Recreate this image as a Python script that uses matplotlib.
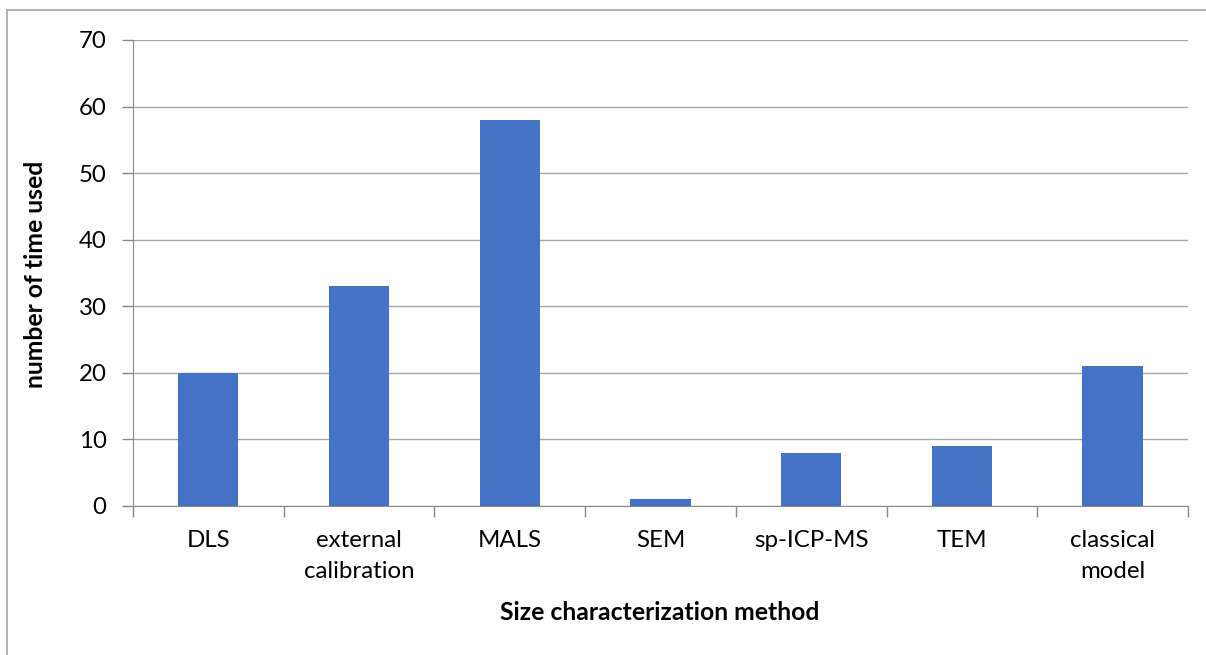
import matplotlib
matplotlib.use('Agg')
import matplotlib.pyplot as plt
import matplotlib.lines as mlines
import numpy as np

plt.rcParams['font.family'] = ['Lato', 'DejaVu Sans']

# Data
methods = ['DLS', 'external\ncalibration', 'MALS', 'SEM', 'sp-ICP-MS', 'TEM', 'classical\nmodel']
counts = [20, 33, 58, 1, 8, 9, 21]
y_ticks = [0, 10, 20, 30, 40, 50, 60, 70]

fig = plt.figure(figsize=(12.06, 6.55), dpi=100)
# plot area in figure fractions (pixels / size)
ax = fig.add_axes([133 / 1206, 1 - 506 / 655, (1188 - 133) / 1206, (506 - 40) / 655])

x = np.arange(len(methods))
ax.bar(x, counts, width=0.4, color='#4472C4', zorder=3)

ax.set_xlim(-0.5, len(methods) - 0.5)
ax.set_ylim(0, 70)
ax.set_yticks(y_ticks)
ax.yaxis.grid(True, color='#A6A6A6', linewidth=1, zorder=0)

# category labels centred, ticks at the boundaries
ax.set_xticks(x)
ax.set_xticklabels(methods, fontsize=17.3, linespacing=1.6)
ax.tick_params(axis='x', length=0, pad=17)
ax.set_xticks(np.arange(len(methods) + 1) - 0.5, minor=True)
ax.tick_params(axis='x', which='minor', length=8, color='#898989', width=1)
ax.tick_params(axis='y', length=8, color='#898989', width=1, labelsize=17.3, pad=11)

for s in ['top', 'right']:
    ax.spines[s].set_visible(False)
ax.spines['left'].set_color('#898989')
ax.spines['bottom'].set_color('#898989')

fig.text(36 / 1206, 1 - 274 / 655, 'number of time used', rotation=90, fontsize=17.8,
         fontweight='bold', ha='center', va='center')
fig.text(660 / 1206, 1 - 613 / 655, 'Size characterization method', fontsize=17.8,
         fontweight='bold', ha='center', va='center')

# outer chart border
fig.add_artist(mlines.Line2D([7 / 1206, 7 / 1206], [0, 1 - 10 / 655], color='#A6A6A6', linewidth=1.2))
fig.add_artist(mlines.Line2D([7 / 1206, 1], [1 - 10 / 655, 1 - 10 / 655], color='#A6A6A6', linewidth=1.2))

fig.savefig('out.png', dpi=100)
